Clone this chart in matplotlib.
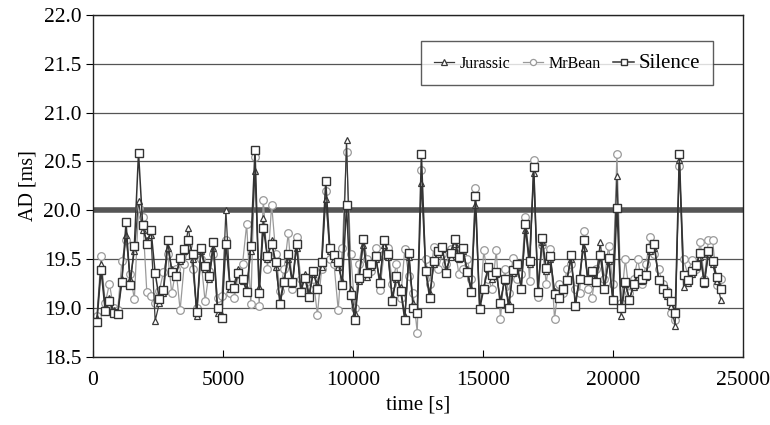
import numpy as np
import matplotlib
matplotlib.use("Agg")
import matplotlib.pyplot as plt

plt.rcParams["font.family"] = ["Liberation Serif", "DejaVu Serif"]

# sampling times [s] (one value every 160 s)
time_s = np.arange(150, 24200, 160)

silence = [
    18.86, 19.39, 18.97, 19.07, 18.95, 18.94, 19.27, 19.88, 19.24, 19.64,
    20.59, 19.85, 19.66, 19.80, 19.36, 19.09, 19.19, 19.70, 19.37, 19.33,
    19.51, 19.60, 19.70, 19.55, 18.96, 19.62, 19.43, 19.33, 19.68, 19.00,
    18.90, 19.66, 19.24, 19.21, 19.36, 19.30, 19.17, 19.64, 20.62, 19.15,
    19.82, 19.53, 19.66, 19.47, 19.04, 19.27, 19.55, 19.27, 19.66, 19.17,
    19.31, 19.11, 19.38, 19.20, 19.47, 20.30, 19.61, 19.54, 19.47, 19.24,
    20.05, 19.13, 18.88, 19.31, 19.71, 19.36, 19.45, 19.53, 19.26, 19.70,
    19.55, 19.07, 19.33, 19.18, 18.88, 19.56, 19.00, 18.95, 20.58, 19.38,
    19.10, 19.48, 19.58, 19.63, 19.36, 19.56, 19.71, 19.52, 19.61, 19.37,
    19.16, 20.15, 18.99, 19.20, 19.42, 19.34, 19.37, 19.05, 19.30, 19.00,
    19.39, 19.45, 19.20, 19.86, 19.48, 20.44, 19.16, 19.72, 19.41, 19.53,
    19.14, 19.10, 19.20, 19.29, 19.54, 19.02, 19.30, 19.70, 19.29, 19.38,
    19.27, 19.54, 19.20, 19.51, 19.08, 20.02, 19.00, 19.27, 19.08, 19.25,
    19.36, 19.30, 19.34, 19.61, 19.66, 19.29, 19.20, 19.15, 19.07, 18.95,
    20.58, 19.34, 19.29, 19.38, 19.44, 19.56, 19.27, 19.58, 19.48, 19.32, 19.20,
]

jurassic = [
    18.90, 19.45, 19.00, 19.10, 18.98, 18.95, 19.30, 19.75, 19.30, 19.58,
    20.10, 19.80, 19.70, 19.75, 18.87, 19.05, 19.15, 19.62, 19.40, 19.35,
    19.48, 19.58, 19.82, 19.50, 18.92, 19.58, 19.40, 19.30, 19.62, 18.95,
    18.93, 20.00, 19.20, 19.25, 19.40, 19.28, 19.20, 19.58, 20.40, 19.22,
    19.92, 19.50, 19.70, 19.42, 19.08, 19.30, 19.50, 19.25, 19.62, 19.20,
    19.35, 19.15, 19.35, 19.25, 19.42, 20.12, 19.58, 19.50, 19.42, 19.28,
    20.72, 19.20, 18.95, 19.28, 19.65, 19.32, 19.42, 19.50, 19.30, 19.65,
    19.52, 19.12, 19.30, 19.22, 18.92, 19.52, 19.05, 18.98, 20.28, 19.40,
    19.15, 19.45, 19.55, 19.60, 19.40, 19.52, 19.66, 19.50, 19.58, 19.40,
    19.20, 20.05, 19.02, 19.22, 19.40, 19.30, 19.35, 19.08, 19.28, 19.05,
    19.36, 19.42, 19.22, 19.80, 19.45, 20.38, 19.20, 19.68, 19.38, 19.50,
    19.18, 19.12, 19.22, 19.30, 19.50, 19.05, 19.32, 19.62, 19.30, 19.36,
    19.30, 19.68, 19.22, 19.48, 19.10, 20.35, 18.92, 19.25, 19.10, 19.22,
    19.32, 19.28, 19.32, 19.58, 19.62, 19.30, 19.22, 19.12, 19.02, 18.82,
    20.52, 19.22, 19.26, 19.35, 19.42, 19.52, 19.25, 19.55, 19.45, 19.28, 19.08,
]

mrbean = [
    18.92, 19.53, 19.05, 19.25, 19.00, 18.98, 19.48, 19.70, 19.35, 19.09,
    20.02, 19.93, 19.16, 19.12, 19.05, 19.18, 19.37, 19.55, 19.15, 19.40,
    18.98, 19.45, 19.65, 19.40, 19.00, 19.50, 19.07, 19.38, 19.55, 19.10,
    19.12, 19.70, 19.15, 19.10, 19.35, 19.45, 19.86, 19.04, 20.55, 19.02,
    20.11, 19.40, 20.06, 19.55, 19.18, 19.40, 19.77, 19.20, 19.73, 19.30,
    19.25, 19.20, 19.30, 18.93, 19.40, 20.20, 19.50, 19.45, 18.98, 19.62,
    20.60, 19.55, 19.00, 19.45, 19.70, 19.50, 19.38, 19.62, 19.19, 19.55,
    19.62, 19.25, 19.45, 19.10, 19.60, 19.33, 19.15, 18.75, 20.41, 19.50,
    19.25, 19.63, 19.40, 19.55, 19.45, 19.60, 19.62, 19.35, 19.40, 19.50,
    19.30, 20.23, 18.99, 19.59, 19.30, 19.20, 19.59, 18.89, 19.40, 19.15,
    19.51, 19.30, 19.35, 19.93, 19.28, 20.52, 19.11, 19.65, 19.25, 19.60,
    18.89, 19.25, 19.15, 19.40, 19.45, 19.20, 19.15, 19.79, 19.20, 19.10,
    19.40, 19.55, 19.30, 19.64, 19.25, 20.58, 19.05, 19.50, 19.15, 19.30,
    19.50, 19.25, 19.45, 19.73, 19.55, 19.40, 19.25, 19.18, 18.95, 18.88,
    20.45, 19.50, 19.35, 19.49, 19.40, 19.68, 19.30, 19.70, 19.70, 19.24, 19.30,
]

limit = 20.0

fig = plt.figure(figsize=(7.7, 4.25), dpi=100)
ax = fig.add_axes([0.1208, 0.16, 0.8442, 0.805])

# grid + the 20 ms bound
for yv in np.arange(18.5, 22.01, 0.5):
    ax.axhline(yv, color="#555555", lw=0.9, zorder=1)
ax.axhline(limit, color="#555555", lw=4, zorder=1.5)

ax.plot(time_s, mrbean, color="#9a9a9a", lw=0.9, marker="o", ms=5.5,
        mfc="white", mec="#9a9a9a", mew=0.9, label="MrBean", zorder=2)
ax.plot(time_s, jurassic, color="#3a3a3a", lw=0.9, marker="^", ms=5,
        mfc="white", mec="#3a3a3a", mew=0.9, label="Jurassic", zorder=3)
ax.plot(time_s, silence, color="#333333", lw=1.1, marker="s", ms=5.5,
        mfc="white", mec="#333333", mew=1.0, label="Silence", zorder=4)

ax.set_xlim(0, 25000)
ax.set_ylim(18.5, 22.0)
ax.set_xticks(np.arange(0, 25001, 5000))
ax.set_yticks(np.arange(18.5, 22.01, 0.5))
ax.set_yticklabels([f"{v:.1f}" for v in np.arange(18.5, 22.01, 0.5)])
ax.tick_params(axis="x", direction="in", length=5, pad=10, labelsize=15.5)
ax.tick_params(axis="y", direction="out", length=5, labelsize=15.5)
ax.set_xlabel("time [s]", fontsize=15)
ax.set_ylabel("AD [ms]", fontsize=14.5)
for s in ax.spines.values():
    s.set_color("#222222")
    s.set_linewidth(1.0)

h, l = ax.get_legend_handles_labels()
order = [1, 0, 2]
leg = ax.legend([h[i] for i in order], [l[i] for i in order], ncol=3,
                loc="upper right", bbox_to_anchor=(0.954, 0.924),
                borderaxespad=0, frameon=True, fancybox=False,
                edgecolor="#333333", fontsize=11.5, handlelength=1.3,
                columnspacing=0.8, handletextpad=0.3, borderpad=0.8,
                markerscale=0.8)
leg.get_frame().set_linewidth(1.0)
leg.get_texts()[2].set_fontsize(15)

fig.savefig("out.png", dpi=100)
